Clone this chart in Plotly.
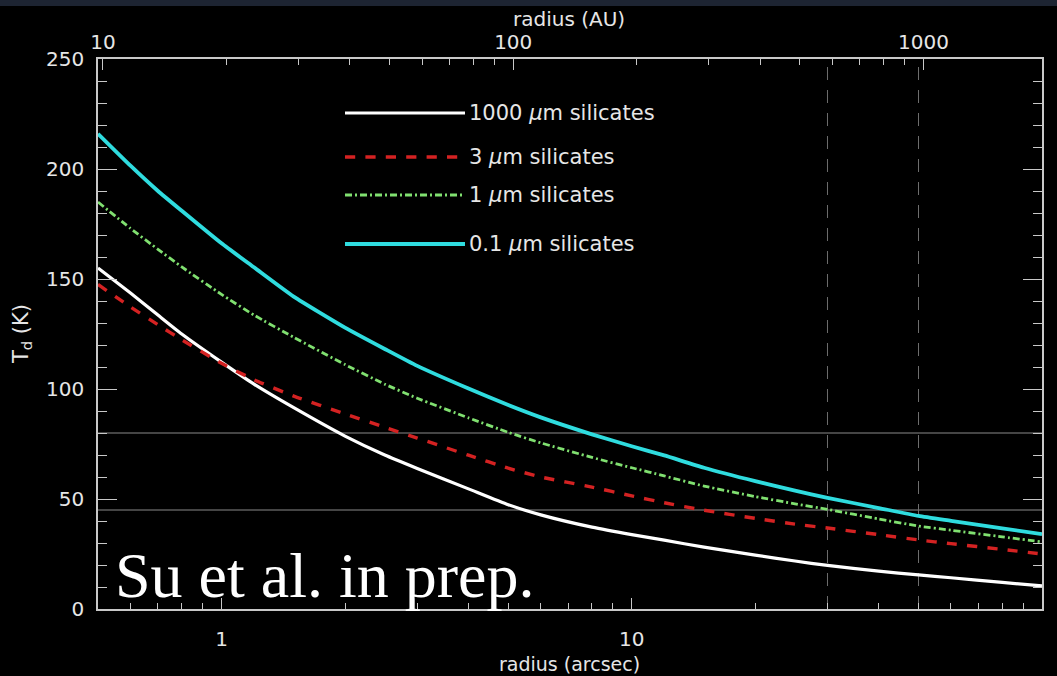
import math
import plotly.graph_objects as go

# ---------------- data ----------------
radius_arcsec = [0.5, 0.6, 0.7, 0.8, 1, 1.2, 1.5, 2, 2.5, 3, 4, 5, 6, 8, 10,
                 12, 15, 20, 25, 30, 40, 50, 60, 80, 100]
t_1000um = [155, 143.6, 133.6, 125.0, 112.2, 102.2, 91.5, 78.6, 70.0, 63.9, 54.6,
            47.4, 42.8, 37.2, 33.8, 31.3, 28.1, 24.5, 21.8, 19.8, 17.2, 15.5, 14.2,
            12.1, 10.5]
t_3um = [147.5, 137.3, 129.2, 122.4, 111.7, 104.2, 96.8, 88.7, 82.6, 77.7, 69.9,
         64.0, 60.0, 55.4, 51.4, 48.3, 44.9, 41.2, 38.6, 36.8, 33.8, 31.4, 29.7,
         27.1, 25]
t_1um = [185, 173, 163.5, 155.5, 143, 133.6, 123.5, 111.1, 102.2, 95.8, 86.9,
         80.3, 75.5, 68.9, 64.2, 60.5, 55.9, 51.1, 47.8, 45.3, 40.9, 37.7, 35.8,
         32.8, 30.5]
t_01um = [216, 201.5, 190, 181, 166.2, 155.3, 142, 127.9, 118.2, 110.5, 100.2,
          92.7, 87.1, 79.4, 74, 69.8, 64.2, 58.1, 53.8, 50.5, 45.9, 42.3, 40.1,
          36.7, 34]

series_names = ["1000 <i>μ</i>m silicates", "3 <i>μ</i>m silicates",
                "1 <i>μ</i>m silicates", "0.1 <i>μ</i>m silicates"]
series_values = [t_1000um, t_3um, t_1um, t_01um]
series_colors = ["#ffffff", "#d42222", "#80e070", "#2fdcdf"]
series_dash = ["solid", "dash", "7px,3px,2px,3px", "solid"]
series_width = [3.2, 3.4, 2.8, 3.8]

distance_pc = 19.45               # AU per arcsec
hlines_K = [80, 45]
vlines_arcsec = [30, 50]

x_range = [0.5, 100]
y_range = [0, 250]
x_major = [1, 10, 100]
x_minor = [0.6, 0.7, 0.8, 0.9, 2, 3, 4, 5, 6, 7, 8, 9,
           20, 30, 40, 50, 60, 70, 80, 90]
au_major = [10, 100, 1000]
au_minor = [20, 30, 40, 50, 60, 70, 80, 90, 200, 300, 400, 500, 600, 700,
            800, 900]
y_major = [0, 50, 100, 150, 200, 250]

# ---------------- figure ----------------
FONT = "DejaVu Sans"
AX = "#c8c8c8"
TXT = "#e6e6e6"

fig = go.Figure()

for vx in vlines_arcsec:
    fig.add_trace(go.Scatter(x=[vx, vx], y=y_range, mode="lines",
                             line=dict(color="#6e6e6e", width=1, dash="13px,10px"),
                             showlegend=False, hoverinfo="skip"))

for name, vals, col, dash, w in zip(series_names, series_values, series_colors,
                                    series_dash, series_width):
    fig.add_trace(go.Scatter(x=radius_arcsec, y=vals, mode="lines", name=name,
                             line=dict(color=col, width=w, dash=dash,
                                       shape="spline", smoothing=0.5),
                             showlegend=False))

# invisible trace to activate the top (AU) axis
fig.add_trace(go.Scatter(x=[r * distance_pc for r in radius_arcsec], y=t_1000um,
                         xaxis="x2", mode="lines", opacity=0,
                         line=dict(width=1), showlegend=False, hoverinfo="skip"))

shapes = []
for hy in hlines_K:
    shapes.append(dict(type="line", xref="paper", yref="y", x0=0, x1=1, y0=hy, y1=hy,
                       line=dict(color="#8a8a8a", width=1), layer="below"))

# top strip of the background photo
shapes.append(dict(type="rect", xref="paper", yref="paper", x0=-0.2, x1=1.1,
                   y0=1 + 53 / 550, y1=1 + 60 / 550, line=dict(width=0),
                   fillcolor="#1d2432"))

# hand-made legend
W, H, L, T = 944, 550, 98, 59
leg_y_px = [113, 157, 195, 244]
annotations = []
for name, col, dash, w, ypx in zip(series_names, series_colors, series_dash,
                                   series_width, leg_y_px):
    yp = (T + H - ypx) / H
    shapes.append(dict(type="line", xref="paper", yref="paper",
                       x0=(345 - L) / W, x1=(465 - L) / W, y0=yp, y1=yp,
                       line=dict(color=col, width=w, dash=dash)))
    annotations.append(dict(text=name, xref="paper", yref="paper",
                            x=(467 - L) / W, y=yp, xanchor="left", yanchor="middle",
                            showarrow=False, font=dict(family=FONT, size=21, color=TXT)))

annotations += [
    dict(text="radius (AU)", xref="paper", yref="paper", x=(569 - L) / W, y=1,
         yshift=40, xanchor="center", yanchor="middle", showarrow=False,
         font=dict(family=FONT, size=20, color=TXT)),
    dict(text="radius (arcsec)", xref="paper", yref="paper", x=(569 - L) / W, y=0,
         yshift=-55, xanchor="center", yanchor="middle", showarrow=False,
         font=dict(family=FONT, size=19, color=TXT)),
    dict(text="T<sub>d</sub> (K)", xref="paper", yref="paper", x=0, y=0.5,
         xshift=-(L - 22), textangle=-90, xanchor="center", yanchor="middle",
         showarrow=False, font=dict(family=FONT, size=21, color=TXT)),
    dict(text="Su et al. in prep.", xref="paper", yref="paper", x=(113 - L) / W,
         y=(T + H - 575) / H, xanchor="left", yanchor="middle", showarrow=False,
         font=dict(family="Liberation Serif", size=64, color="#ffffff")),
]

tickfont = dict(family=FONT, size=20, color=TXT)

fig.update_layout(
    width=1057, height=676,
    paper_bgcolor="#000000", plot_bgcolor="#000000",
    margin=dict(l=98, r=15, t=59, b=67),
    showlegend=False,
    shapes=shapes,
    annotations=annotations,
    xaxis=dict(type="log", range=[math.log10(x_range[0]), math.log10(x_range[1])],
               tickmode="array", tickvals=x_major,
               ticktext=[str(v) for v in x_major],
               ticks="inside", ticklen=11, tickwidth=1, tickcolor=AX,
               minor=dict(tickmode="array", tickvals=x_minor, ticks="inside",
                          ticklen=6, tickwidth=1, tickcolor=AX, showgrid=False),
               showline=True, linecolor=AX, linewidth=1.5, mirror=False,
               showgrid=False, zeroline=False, tickfont=tickfont,
               ticklabelstandoff=11),
    xaxis2=dict(type="log", overlaying="x", side="top",
                range=[math.log10(x_range[0] * distance_pc),
                       math.log10(x_range[1] * distance_pc)],
                tickmode="array", tickvals=au_major,
                ticktext=[str(v) for v in au_major],
                ticks="inside", ticklen=11, tickwidth=1, tickcolor=AX,
                minor=dict(tickmode="array", tickvals=au_minor, ticks="inside",
                           ticklen=6, tickwidth=1, tickcolor=AX, showgrid=False),
                showline=True, linecolor=AX, linewidth=1.5,
                showgrid=False, zeroline=False, tickfont=tickfont,
                ticklabelstandoff=0),
    yaxis=dict(range=y_range, tickmode="array", tickvals=y_major,
               ticks="inside", ticklen=19, tickwidth=1, tickcolor=AX,
               minor=dict(dtick=10, ticks="inside", ticklen=9, tickwidth=1,
                          tickcolor=AX, showgrid=False),
               showline=True, linecolor=AX, linewidth=1.5, mirror="ticks",
               showgrid=False, zeroline=False, tickfont=tickfont,
               ticklabelstandoff=8),
)

fig.write_html("out.html")
